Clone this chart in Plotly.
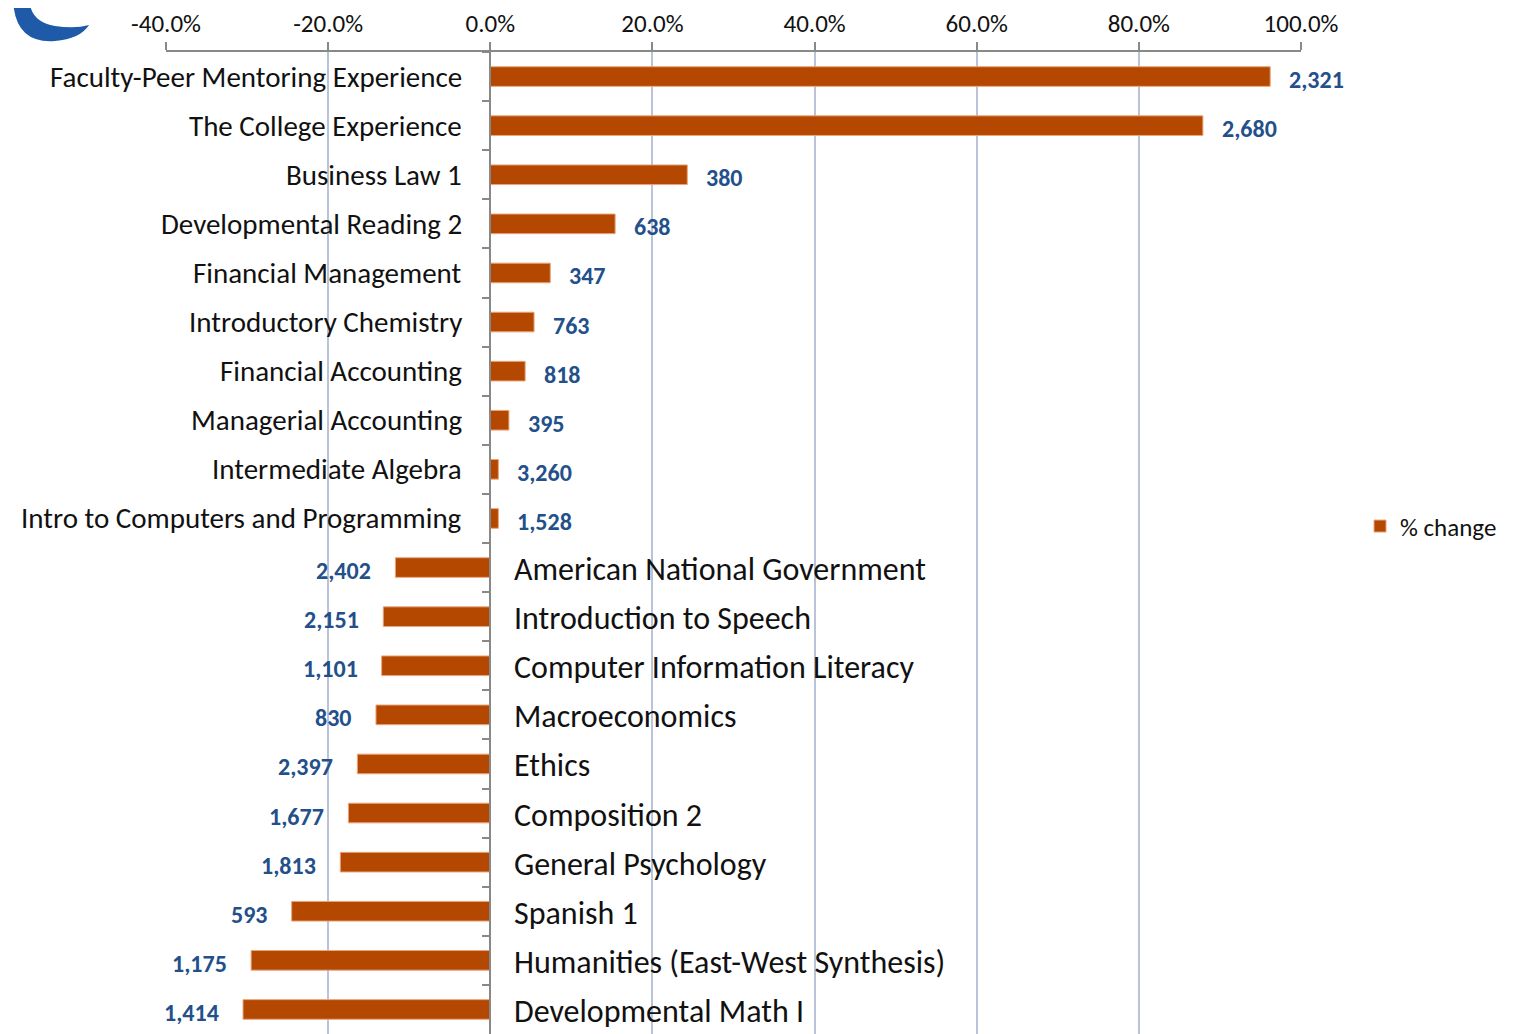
import plotly.graph_objects as go

courses = [
    "Faculty-Peer Mentoring Experience",
    "The College Experience",
    "Business Law 1",
    "Developmental Reading 2",
    "Financial Management",
    "Introductory Chemistry",
    "Financial Accounting",
    "Managerial Accounting",
    "Intermediate Algebra",
    "Intro to Computers and Programming",
    "American National Government",
    "Introduction to Speech",
    "Computer Information Literacy",
    "Macroeconomics",
    "Ethics",
    "Composition 2",
    "General Psychology",
    "Spanish 1",
    "Humanities (East-West Synthesis)",
    "Developmental Math I",
]

pct_change = [0.962, 0.879, 0.243, 0.154, 0.074, 0.054, 0.043, 0.023, 0.010, 0.010,
              -0.117, -0.132, -0.134, -0.141, -0.164, -0.175, -0.185, -0.245, -0.295, -0.305]

enrollment = ["2,321", "2,680", "380", "638", "347", "763", "818", "395", "3,260", "1,528",
              "2,402", "2,151", "1,101", "830", "2,397", "1,677", "1,813", "593", "1,175", "1,414"]

x_ticks = [-0.4, -0.2, 0.0, 0.2, 0.4, 0.6, 0.8, 1.0]
x_tick_labels = ["%.1f%%" % (t * 100) for t in x_ticks]

FONT = "Carlito, Calibri, Lato, sans-serif"
BAR = "#B54800"
LABEL_BLUE = "#23508A"

# page has an 8px body margin, so the figure is a bit smaller than the window
W, H = 1505, 1026
ML, MR, MT, MB = 158, 212, 44, 0
x_min, x_max = -0.4, 1.0

fig = go.Figure()
fig.add_trace(go.Bar(
    x=pct_change, y=courses, orientation="h", name="% change",
    marker=dict(color=BAR, line=dict(color="#E9A57C", width=1)),
    width=0.4,
))

# course names sit on the zero line, on the side away from the bar
for name, v in zip(courses, pct_change):
    fig.add_annotation(
        x=0, y=name, text=name, showarrow=False,
        xanchor="right" if v > 0 else "left",
        xshift=-26 if v > 0 else 22,
        yshift=0 if v > 0 else -2,
        font=dict(family=FONT, size=29 if v > 0 else 32, color="#111"),
    )

# enrollment counts past the bar ends
for name, v, n in zip(courses, pct_change, enrollment):
    fig.add_annotation(
        x=v, y=name, text="<b>%s</b>" % n, showarrow=False,
        xanchor="left" if v > 0 else "right",
        xshift=17 if v > 0 else -22, yshift=-3,
        font=dict(family=FONT, size=24, color=LABEL_BLUE),
    )

# partial logo in the top-left corner (page pixel coords)
def p(xp, yp):
    xp, yp = xp - 8, yp - 8
    return "%.4f,%.4f" % ((xp - ML) / (W - ML - MR), (H - MB - yp) / (H - MT - MB))

logo = "M %s Q %s %s Q %s %s Q %s %s Q %s %s Z" % (
    p(13, -2), p(14, 44), p(55, 41), p(80, 39), p(89, 25),
    p(75, 29), p(55, 26), p(30, 22), p(29, -2))
fig.add_shape(type="path", path=logo, xref="paper", yref="paper",
              fillcolor="#1F5AA8", line=dict(width=0))

fig.update_layout(
    width=W, height=H,
    margin=dict(l=ML, r=MR, t=MT, b=MB, autoexpand=False),
    plot_bgcolor="white", paper_bgcolor="white",
    font=dict(family=FONT, color="#111"),
    showlegend=True,
    legend=dict(x=1.052, y=0.517, xanchor="left", yanchor="middle",
                font=dict(family=FONT, size=25, color="#111"),
                itemwidth=30),
    xaxis=dict(
        side="top", range=[x_min, x_max],
        tickvals=x_ticks, ticktext=x_tick_labels,
        showgrid=True, gridcolor="#BAC3D7", gridwidth=1.5,
        showline=True, linecolor="#888888", linewidth=2,
        ticks="outside", ticklen=8, tickcolor="#888888", tickwidth=2,
        automargin=False,
        tickfont=dict(family=FONT, size=25, color="#111"),
        zeroline=False,
    ),
    yaxis=dict(
        type="category", autorange="reversed",
        anchor="free", position=(0 - x_min) / (x_max - x_min),
        showline=True, linecolor="#888888", linewidth=2,
        ticks="outside", tickson="boundaries", ticklen=7,
        tickcolor="#888888", tickwidth=2, automargin=False,
        showticklabels=False, showgrid=False,
    ),
)

fig.write_html("out.html")
